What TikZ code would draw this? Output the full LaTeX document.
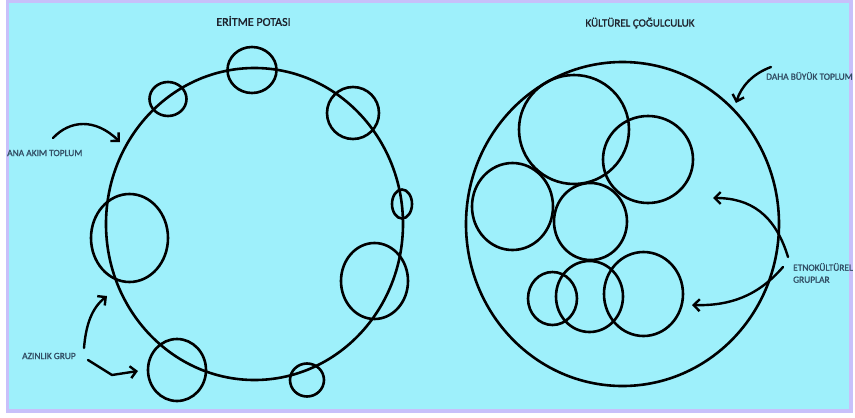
\documentclass[tikz,border=0pt]{standalone}
\usepackage{fontspec}
\setmainfont{Carlito}
\newfontfamily\heavyfont[FakeBold=1.3]{Carlito}
\usetikzlibrary{arrows.meta}
\definecolor{bgcyan}{RGB}{158,240,251}
\definecolor{rim}{RGB}{200,192,250}
\definecolor{labelc}{RGB}{50,78,100}
\definecolor{titlec}{RGB}{30,35,45}
\tikzset{
  ring/.style={line width=2.6pt, draw=black},
  pointer/.style={line width=2.4pt, line cap=round, line join=round,
    -{Straight Barb[length=6pt,width=12pt,line width=2.4pt]}},
  lbl/.style={inner sep=0pt, text=labelc, font=\heavyfont\fontsize{9.4}{12}\selectfont},
  ttl/.style={inner sep=0pt, text=titlec}
}
\begin{document}
\begin{tikzpicture}[x=1pt,y=-1pt]
\useasboundingbox (0,0) rectangle (855,418);
\fill[white] (0,0) rectangle (855,418);
\fill[rim] (6,0) rectangle (853,413);
\fill[bgcyan] (9,3) rectangle (849,409);

% titles
\node[ttl, font=\heavyfont\fontsize{12}{14}\selectfont] (t1) at (253.5,21) {ERİTME POTASI};
\node[ttl, font=\heavyfont\fontsize{11}{13}\selectfont] (t2) at (640,23) {KÜLTÜREL ÇOĞULCULUK};

% melting pot
\draw[ring] (254.5,224) ellipse (148.5 and 156);
\draw[ring] (252,70) ellipse (24.5 and 23);
\draw[ring] (168,99) ellipse (18.5 and 17);
\draw[ring] (353,113) ellipse (26 and 26);
\draw[ring] (402,204) ellipse (10 and 14.5);
\draw[ring] (129.5,238) ellipse (38.5 and 44);
\draw[ring] (374.5,281) ellipse (33.5 and 38);
\draw[ring] (177,370) ellipse (29 and 31);
\draw[ring] (307,380) ellipse (17 and 16.5);

% cultural pluralism
\draw[ring] (622.5,224) ellipse (156.5 and 162);
\draw[ring] (574,129.5) ellipse (55 and 54.5);
\draw[ring] (648,159.5) ellipse (45 and 43.5);
\draw[ring] (512.5,206.5) ellipse (40.5 and 43.5);
\draw[ring] (590.5,221.5) ellipse (36.5 and 38.5);
\draw[ring] (552.5,298.5) ellipse (24.5 and 26.5);
\draw[ring] (589.5,296.5) ellipse (33.5 and 35.5);
\draw[ring] (643.5,294) ellipse (39.5 and 42);

% labels
\node[lbl, anchor=west] (ana) at (7,153) {ANA AKIM TOPLUM};
\node[lbl, anchor=west] (azn) at (22,356) {AZINLIK GRUP};
\node[lbl, anchor=west] (daha) at (766,76) {DAHA BÜYÜK TOPLUM};
\node[lbl, anchor=west, align=left] (etno) at (793,273) {ETNOKÜLTÜREL\\GRUPLAR};

% arrow ends
\coordinate (a1s) at (53,138);   \coordinate (a1e) at (120,142);
\coordinate (a2s) at (84,348);   \coordinate (a2e) at (107,296);
\coordinate (a3s) at (88,360);   \coordinate (a3m) at (112,375); \coordinate (a3e) at (138,371);
\coordinate (a4s) at (771,67);   \coordinate (a4e) at (736,103);
\coordinate (a5s) at (788,257);  \coordinate (a5e) at (713,198);
\coordinate (a6s) at (783,267);  \coordinate (a6e) at (692,305);

\draw[pointer] (a1s) .. controls (70,120) and (95,118) .. (a1e);
\draw[pointer] (a2s) .. controls (86,324) and (92,308) .. (a2e);
\draw[pointer] (a3s) -- (a3m) -- (a3e);
\draw[pointer] (a4s) .. controls (752,74) and (741,87) .. (a4e);
\draw[pointer] (a5s) .. controls (775,214) and (750,198) .. (a5e);
\draw[pointer] (a6s) .. controls (758,296) and (730,306) .. (a6e);
\end{tikzpicture}
\end{document}
